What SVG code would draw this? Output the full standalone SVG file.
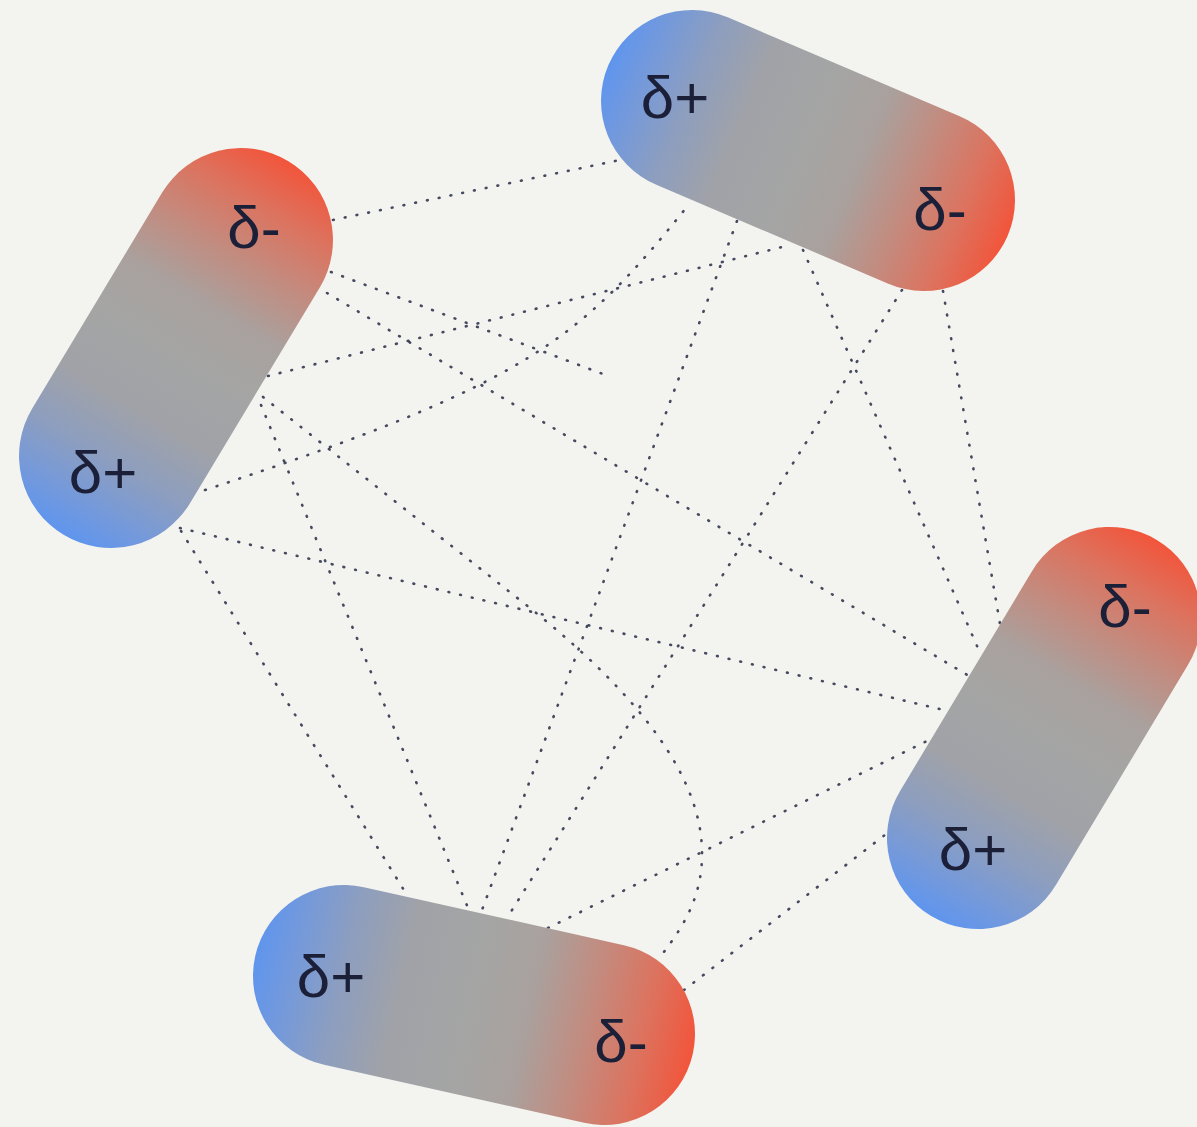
<svg xmlns="http://www.w3.org/2000/svg" width="1197" height="1127" viewBox="0 0 1197 1127">
<defs>
<linearGradient id="pol" x1="0" y1="0" x2="1" y2="0">
<stop offset="0" stop-color="#5f95ee"/>
<stop offset="0.08" stop-color="#7399dc"/>
<stop offset="0.2" stop-color="#8d9ebf"/>
<stop offset="0.33" stop-color="#a0a2a8"/>
<stop offset="0.5" stop-color="#a5a5a4"/>
<stop offset="0.62" stop-color="#a9a19e"/>
<stop offset="0.75" stop-color="#c28c80"/>
<stop offset="0.88" stop-color="#dc735f"/>
<stop offset="1" stop-color="#f2553b"/>
</linearGradient>
<style>
.bond{fill:none;stroke:#262c45;stroke-width:2.6;stroke-dasharray:0.8 11.2;stroke-linecap:round;opacity:0.85}
.body{fill:url(#pol)}
.lbl{font-family:"Liberation Sans",Arial,sans-serif;font-size:60px;fill:#1b2038;text-anchor:middle}
</style>
</defs>
<rect x="0" y="0" width="1197" height="1127" fill="#f3f3ef"/>
<g id="connectors">
<path class="bond" d="M333,220 L620,160"/>
<path class="bond" d="M331,272 L603,374"/>
<path class="bond" d="M327,293 L969,676"/>
<path class="bond" d="M268,376 L790,245"/>
<path class="bond" d="M205,490 C530,383 580,340 690,203"/>
<path class="bond" d="M263,397 L530,608 C610,672 700,760 702,850 C703,895 685,925 660,957"/>
<path class="bond" d="M261,405 L468,908"/>
<path class="bond" d="M181,531 L407,895"/>
<path class="bond" d="M180,528 L948,711"/>
<path class="bond" d="M737,221 L482,910"/>
<path class="bond" d="M902,290 L507,918"/>
<path class="bond" d="M803,250 L981,655"/>
<path class="bond" d="M943,291 L1000,624"/>
<path class="bond" d="M548,928 L931,739"/>
<path class="bond" d="M684,990 L890,831"/>
</g>
<g id="molecule-top">
<rect class="body" transform="translate(808,150.5) rotate(23.1)" x="-217.1" y="-91" width="434.2" height="182" rx="91" ry="91"/>
<text class="lbl" x="675" y="118">δ+</text>
<text class="lbl" x="940" y="230">δ-</text>
</g>
<g id="molecule-left">
<rect class="body" transform="translate(176,348) rotate(-58.96)" x="-218" y="-92" width="436" height="184" rx="92" ry="92"/>
<text class="lbl" x="254" y="248">δ-</text>
<text class="lbl" x="103" y="493">δ+</text>
</g>
<g id="molecule-right">
<rect class="body" transform="translate(1044,728) rotate(-59.04)" x="-219.3" y="-91" width="438.6" height="182" rx="91" ry="91"/>
<text class="lbl" x="1125" y="627">δ-</text>
<text class="lbl" x="973" y="870">δ+</text>
</g>
<g id="molecule-bottom">
<rect class="body" transform="translate(474,1005) rotate(12.58)" x="-224.2" y="-91" width="448.4" height="182" rx="91" ry="91"/>
<text class="lbl" x="331" y="997">δ+</text>
<text class="lbl" x="621" y="1062">δ-</text>
</g>
</svg>
